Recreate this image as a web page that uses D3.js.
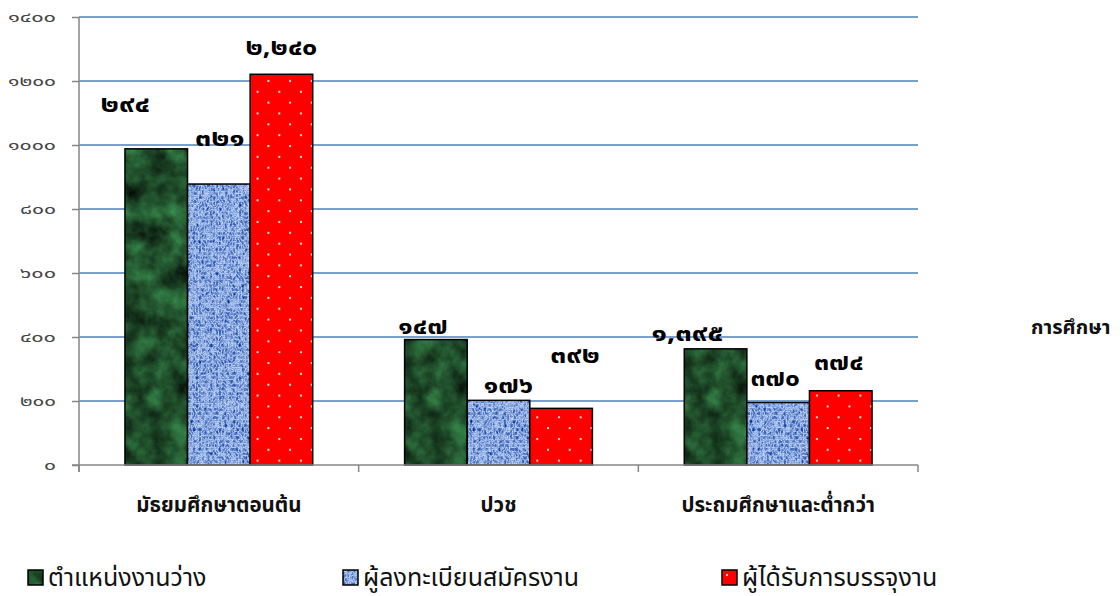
<!DOCTYPE html>
<html>
<head>
<meta charset="utf-8">
<script src="https://cdn.jsdelivr.net/npm/d3@7"></script>
<style>
  body { margin: 0; background: #fff; }
  text { font-family: "Noto Sans Thai", "Noto Sans", Tahoma, sans-serif; }
</style>
</head>
<body>
<div id="chart"></div>
<script>
var categories = ['มัธยมศึกษาตอนต้น', 'ปวช', 'ประถมศึกษาและต่ำกว่า'];
var seriesNames = ['ตำแหน่งงานว่าง', 'ผู้ลงทะเบียนสมัครงาน', 'ผู้ได้รับการบรรจุงาน'];

// bar heights as drawn
var vacancies = [988, 392, 363];
var applicants = [878, 202, 195];
var placed = [1221, 177, 232];

// numbers written on top of the bars
var vacancyLabels = [294, 147, 1395];
var applicantLabels = [321, 176, 370];
var placedLabels = [2240, 392, 374];

var yTicks = [0, 200, 400, 600, 800, 1000, 1200, 1400];

// label nudges relative to the bar top (layout only)
var labelNudge = [
  [[-31, 45], [1, 46], [0, 27]],
  [[-13, 14], [10, 15], [14, 53]],
  [[-28, 16], [-3, 25], [-2, 29]]
];

var w = 1120, h = 596;
var mLeft = 79, mRight = 918, mTop = 17, mBottom = 465;

var thaiDigits = '๐๑๒๓๔๕๖๗๘๙';
function thai(s) { return String(s).replace(/[0-9]/g, function(c) { return thaiDigits[+c]; }); }
// the reference font has wide digits, so stretch them to that width
function numWidth(s, digit, comma) {
  var n = s.replace(/,/g, '').length;
  return n * digit + (s.length - n) * comma;
}

var values = [vacancies, applicants, placed];
var labels = [vacancyLabels, applicantLabels, placedLabels];

var svg = d3.select('#chart').append('svg')
  .attr('width', w)
  .attr('height', h)
  .style('background', 'white');

var defs = svg.append('defs');

// green marble
var fg = defs.append('filter').attr('id', 'marble').attr('x', 0).attr('y', 0).attr('width', 1).attr('height', 1)
  .attr('color-interpolation-filters', 'sRGB');
fg.append('feTurbulence').attr('type', 'fractalNoise').attr('baseFrequency', '0.045').attr('numOctaves', 4).attr('seed', 3).attr('result', 'n');
fg.append('feColorMatrix').attr('in', 'n').attr('type', 'matrix')
  .attr('values', '0.25 0 0 0 0  0.62 0 0 0 0  0.34 0 0 0 0  0 0 0 0 1').attr('result', 'c');
fg.append('feComposite').attr('in', 'c').attr('in2', 'SourceGraphic').attr('operator', 'in');

// blue weave
var fb = defs.append('filter').attr('id', 'weave').attr('x', 0).attr('y', 0).attr('width', 1).attr('height', 1)
  .attr('color-interpolation-filters', 'sRGB');
fb.append('feTurbulence').attr('type', 'turbulence').attr('baseFrequency', '0.35 0.25').attr('numOctaves', 2).attr('seed', 7).attr('result', 'n');
fb.append('feColorMatrix').attr('in', 'n').attr('type', 'matrix')
  .attr('values', '-1.0 0 0 0 0.76  -0.85 0 0 0 0.84  -0.5 0 0 0 0.98  0 0 0 0 1').attr('result', 'c');
fb.append('feComposite').attr('in', 'c').attr('in2', 'SourceGraphic').attr('operator', 'in');

// red with white dots
var pr = defs.append('pattern').attr('id', 'dots').attr('patternUnits', 'userSpaceOnUse')
  .attr('width', 21.7).attr('height', 21.7);
pr.append('rect').attr('width', 21.7).attr('height', 21.7).attr('fill', '#ff0000');
pr.append('circle').attr('cx', 5).attr('cy', 5).attr('r', 1.1).attr('fill', 'white');
pr.append('circle').attr('cx', 15.8).attr('cy', 15.8).attr('r', 1.1).attr('fill', 'white');

var fills = ['#1f4a2a', '#8ea8de', 'url(#dots)'];
var filters = ['url(#marble)', 'url(#weave)', null];

var x0 = d3.scaleBand().domain(categories).range([mLeft, mRight]).paddingInner(0).paddingOuter(0);
var x1 = d3.scaleBand().domain(d3.range(3)).range([0, x0.bandwidth()]).paddingInner(0).paddingOuter(0.734);
var y = d3.scaleLinear().domain([0, 1400]).range([mBottom, mTop]);

// gridlines
svg.append('g').selectAll('line')
  .data(yTicks.slice(1))
  .enter().append('line')
  .attr('x1', mLeft).attr('x2', mRight)
  .attr('y1', function(d) { return y(d); }).attr('y2', function(d) { return y(d); })
  .attr('stroke', '#4f81bd').attr('stroke-width', 1.5);

// y axis
var yAxis = svg.append('g')
  .attr('transform', 'translate(' + mLeft + ',0)')
  .call(d3.axisLeft(y).tickValues(yTicks).tickSize(7).tickPadding(23).tickFormat(function(d) { return thai(d); }));
yAxis.select('.domain').attr('stroke', '#868686').attr('stroke-width', 1.5).attr('d', 'M0,' + mTop + 'V' + (mBottom + 7));
yAxis.selectAll('.tick line').attr('stroke', '#868686').attr('stroke-width', 1.5);
yAxis.selectAll('.tick text')
  .attr('fill', '#444')
  .style('font-size', '14px')
  .attr('text-anchor', 'start')
  .attr('x', function(d) { return -23 - numWidth(thai(d), 12, 4); })
  .attr('textLength', function(d) { return numWidth(thai(d), 12, 4); })
  .attr('lengthAdjust', 'spacingAndGlyphs');

// bars
var groups = svg.selectAll('.grp')
  .data(categories)
  .enter().append('g')
  .attr('class', 'grp')
  .attr('transform', function(d) { return 'translate(' + x0(d) + ',0)'; });

groups.each(function(cat, ci) {
  var g = d3.select(this);
  d3.range(3).forEach(function(si) {
    var v = values[si][ci];
    var bx = x1(si), bw = x1.bandwidth();
    g.append('rect')
      .attr('x', bx).attr('y', y(v)).attr('width', bw).attr('height', mBottom - y(v))
      .attr('fill', fills[si])
      .attr('filter', filters[si]);
    g.append('rect')
      .attr('x', bx).attr('y', y(v)).attr('width', bw).attr('height', mBottom - y(v))
      .attr('fill', 'none').attr('stroke', 'black').attr('stroke-width', 1.5);
    var n = labelNudge[ci][si];
    var txt = thai(d3.format(',')(labels[si][ci]));
    var tw = numWidth(txt, 16.5, 6);
    g.append('text')
      .attr('x', bx + bw / 2 + n[0] - tw / 2)
      .attr('y', y(v) - n[1])
      .attr('dy', '0.35em')
      .style('font-size', '23px')
      .style('font-weight', 'bold')
      .attr('textLength', tw)
      .attr('lengthAdjust', 'spacingAndGlyphs')
      .text(txt);
  });
});

// x axis
svg.append('line')
  .attr('x1', mLeft - 7).attr('x2', mRight)
  .attr('y1', mBottom).attr('y2', mBottom)
  .attr('stroke', '#868686').attr('stroke-width', 1.5);
svg.append('g').selectAll('line')
  .data(categories.map(function(c) { return x0(c); }).concat([mRight]))
  .enter().append('line')
  .attr('x1', function(d) { return d; }).attr('x2', function(d) { return d; })
  .attr('y1', mBottom).attr('y2', mBottom + 7)
  .attr('stroke', '#868686').attr('stroke-width', 1.5);

svg.append('g').selectAll('text')
  .data(categories)
  .enter().append('text')
  .attr('x', function(d) { return x0(d) + x0.bandwidth() / 2; })
  .attr('y', 512)
  .attr('text-anchor', 'middle')
  .style('font-size', '20.5px')
  .style('font-weight', 'bold')
  .attr('fill', '#111')
  .text(function(d) { return d; });

// axis title
svg.append('text')
  .attr('x', 1031).attr('y', 334)
  .style('font-size', '20px')
  .style('font-weight', 'bold')
  .attr('fill', '#111')
  .text('การศึกษา');

// legend
var legendX = [28, 343, 722];
var leg = svg.selectAll('.leg')
  .data(seriesNames)
  .enter().append('g')
  .attr('class', 'leg')
  .attr('transform', function(d, i) { return 'translate(' + legendX[i] + ',570)'; });
leg.append('rect')
  .attr('width', 15).attr('height', 15)
  .attr('fill', function(d, i) { return fills[i]; })
  .attr('filter', function(d, i) { return filters[i]; });
leg.append('rect')
  .attr('width', 15).attr('height', 15)
  .attr('fill', 'none').attr('stroke', 'black').attr('stroke-width', 1.5);
leg.append('text')
  .attr('x', 20).attr('y', 16)
  .style('font-size', '25px')
  .attr('fill', '#111')
  .text(function(d) { return d; });
</script>
</body>
</html>
